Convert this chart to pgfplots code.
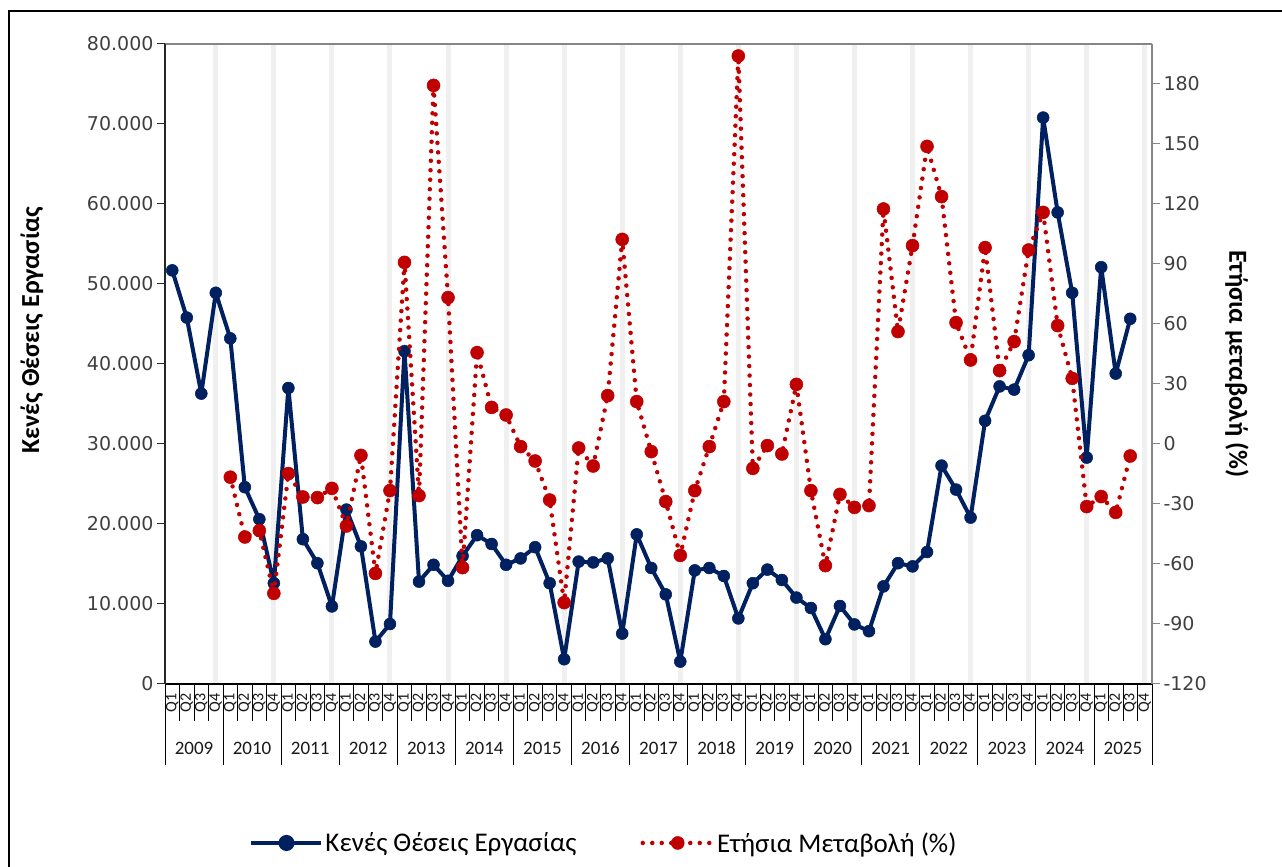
\documentclass[border=0pt]{standalone}
\usepackage{fontspec}
\setmainfont{Carlito}
\newfontfamily\tickfont{DejaVu Sans}
\usepackage{pgfplots}
\pgfplotsset{compat=1.18}
\definecolor{navy}{HTML}{002060}
\definecolor{dred}{HTML}{C00000}
\definecolor{band}{HTML}{F0F0F0}
\definecolor{ticktext}{HTML}{404040}
\definecolor{axgray}{HTML}{868686}
\begin{document}
\begin{tikzpicture}[x=1pt,y=1pt]
\useasboundingbox (0,0) rectangle (1282,867);
\clip (0,0) rectangle (1282,867);
\fill[white] (0,0) rectangle (1282,867);
\draw[black, line width=1.5pt] (9,-20) -- (9,856) -- (1300,856);
\foreach \i in {3,7,...,67} \draw[band, line width=5pt] ({165+14.514706*(\i+0.5)},183) -- ++(0,640);
\draw[axgray, line width=1.5pt] (165,823) -- (1152,823);
% quarter separators
\foreach \i in {0,...,68} \draw[black, line width=0.9pt] ({165+14.514706*\i},183) -- ++(0,-37);
\foreach \i in {0,4,...,68} \draw[black, line width=0.9pt] ({165+14.514706*\i},183) -- ++(0,-81);
\foreach \k in {0,...,16} {
  \pgfmathtruncatemacro\yr{2009+\k}
  \node[font=\fontsize{19}{19}\selectfont, text=black!90] at ({165+14.514706*(4*\k+2)},119) {\yr};
}
\begin{axis}[
  at={(165pt,183pt)}, anchor=south west, scale only axis,
  width=987pt, height=640pt,
  xmin=-0.5, xmax=67.5, ymin=0, ymax=80000,
  axis x line*=bottom, axis y line*=left,
  x axis line style={black, line width=1.2pt},
  y axis line style={black!85, line width=1.2pt},
  ytick={0,10000,...,80000},
  scaled y ticks=false,
  /pgf/number format/1000 sep={.},
  /pgf/number format/assume math mode=true,
  yticklabel style={font=\tickfont\fontsize{19}{19}\selectfont, text=ticktext},
  tick align=outside, major tick length=8pt,
  ytick style={black!85, line width=1pt},
  xtick={0,...,67},
  xtick style={draw=none},
  xticklabels={Q1,Q2,Q3,Q4,Q1,Q2,Q3,Q4,Q1,Q2,Q3,Q4,Q1,Q2,Q3,Q4,Q1,Q2,Q3,Q4,Q1,Q2,Q3,Q4,Q1,Q2,Q3,Q4,Q1,Q2,Q3,Q4,Q1,Q2,Q3,Q4,Q1,Q2,Q3,Q4,Q1,Q2,Q3,Q4,Q1,Q2,Q3,Q4,Q1,Q2,Q3,Q4,Q1,Q2,Q3,Q4,Q1,Q2,Q3,Q4,Q1,Q2,Q3,Q4,Q1,Q2,Q3,Q4},
  x tick label style={rotate=90, anchor=east, font=\fontsize{16}{16}\selectfont, inner sep=1pt, text=black!90},
  clip=false,
]
\addplot[navy, line width=4pt, line join=round, mark=*, mark size=6pt, mark options={solid, fill=navy, draw=navy, line width=0.5pt}] coordinates {
(0,51700) (1,45800) (2,36300) (3,48900) (4,43200) (5,24600) (6,20600) (7,12600)
(8,37000) (9,18100) (10,15100) (11,9700) (12,21800) (13,17200) (14,5300) (15,7500)
(16,41600) (17,12800) (18,14900) (19,12900) (20,16000) (21,18600) (22,17500) (23,14900)
(24,15700) (25,17100) (26,12600) (27,3100) (28,15300) (29,15200) (30,15700) (31,6300)
(32,18700) (33,14500) (34,11200) (35,2800) (36,14200) (37,14500) (38,13500) (39,8200)
(40,12600) (41,14300) (42,13000) (43,10800) (44,9500) (45,5600) (46,9750) (47,7450)
(48,6600) (49,12200) (50,15100) (51,14700) (52,16500) (53,27300) (54,24300) (55,20800)
(56,32900) (57,37200) (58,36800) (59,41100) (60,70800) (61,58950) (62,48900) (63,28300)
(64,52100) (65,38800) (66,45650)
};
\end{axis}
\begin{axis}[
  at={(165pt,183pt)}, anchor=south west, scale only axis,
  width=987pt, height=640pt,
  xmin=-0.5, xmax=67.5, ymin=-120, ymax=200,
  axis x line=none, axis y line*=right,
  y axis line style={axgray, line width=1.2pt},
  ytick={-120,-90,...,180},
  /pgf/number format/assume math mode=true,
  tick align=outside, major tick length=8pt,
  ytick style={axgray, line width=1pt},
  yticklabel style={font=\tickfont\fontsize{19}{19}\selectfont, text=ticktext, anchor=west},
  clip=false,
  legend style={at={(0.4448,-0.2484)}, anchor=center, draw=none, fill=none,
    legend columns=2, font=\fontsize{27}{27}\selectfont, inner sep=1pt,
    /tikz/every even column/.append style={column sep=62pt}},
  legend cell align=left,
  legend image code/.code={\draw[mark repeat=2,mark phase=2,#1] plot coordinates {(0pt,0pt) (35pt,0pt) (70pt,0pt)};},
]
\addlegendimage{navy, line width=4pt, mark=*, mark size=6pt, mark options={solid, fill=navy, draw=navy}}
\addlegendentry{Κενές Θέσεις Εργασίας}
\addplot[dred, line width=4.5pt, line cap=round, dash pattern=on 0pt off 9.5pt, mark=*, mark size=6.5pt, mark options={solid, fill=dred, draw=dred, line width=0.5pt}] coordinates {
(4,-16.6) (5,-46.5) (6,-43.3) (7,-74.7)
(8,-14.8) (9,-26.5) (10,-26.8) (11,-22.2) (12,-41) (13,-5.7) (14,-64.7) (15,-23.3)
(16,90.8) (17,-25.8) (18,179.3) (19,73.2) (20,-61.8) (21,45.7) (22,18.3) (23,14.5)
(24,-1.3) (25,-8.5) (26,-28) (27,-79.3) (28,-2) (29,-11) (30,24.2) (31,102.3)
(32,21.2) (33,-3.8) (34,-28.8) (35,-55.7) (36,-23.3) (37,-1.3) (38,21.2) (39,194)
(40,-12.2) (41,-0.8) (42,-5) (43,29.8) (44,-23.3) (45,-60.8) (46,-25.2) (47,-31.7)
(48,-30.8) (49,117.5) (50,56.2) (51,99.2) (52,148.8) (53,123.7) (54,60.7) (55,42)
(56,98.2) (57,36.7) (58,51.2) (59,97) (60,115.8) (61,59.2) (62,32.8) (63,-31.3)
(64,-26.3) (65,-34.2) (66,-6)
};
\addlegendentry{Ετήσια Μεταβολή (\%)}
\end{axis}
\node[rotate=90, font=\bfseries\fontsize{26}{26}\selectfont] at (32,537) {Κενές Θέσεις Εργασίας};
\node[rotate=-90, font=\bfseries\fontsize{26}{26}\selectfont] at (1237,503) {Ετήσια μεταβολή (\%)};
\end{tikzpicture}
\end{document}
